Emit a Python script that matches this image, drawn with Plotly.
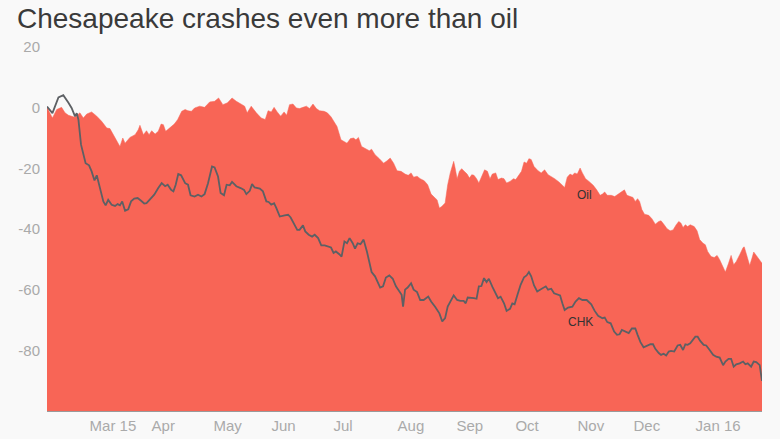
import plotly.graph_objects as go

# Trading-day index (0 = early Feb 2015) and % change since start
oil_day = [0, 1.9, 3.4, 5.1, 6.3, 7.5, 9.8, 11.5, 12.7, 13.9, 15.6, 17.4, 19.1, 20.9, 22.0, 23.2, 24.4, 25.5,
           26.5, 27.3, 29.0, 30.8, 31.9, 32.5, 33.7, 34.8, 35.7, 36.6, 37.8, 38.9, 39.9, 40.7, 41.5, 43.0, 44.5,
           45.7, 47.1, 48.3, 49.3, 50.5, 51.6, 53.4, 55.1, 56.9, 58.6, 60.0, 61.5, 63.1, 64.7, 66.2, 68.0, 69.1,
           70.0, 71.4, 73.2, 74.9, 76.3, 77.3, 78.4, 79.4, 80.5, 81.7, 82.9, 83.8, 84.8, 86.0, 87.2, 88.3, 89.5,
           90.7, 91.8, 93.0, 94.2, 95.3, 96.9, 98.0, 99.3, 100.5, 101.4, 102.8, 104.0, 104.9, 106.1, 107.2, 108.0,
           108.9, 110.0, 111.5, 112.7, 113.5, 114.7, 116.2, 117.7, 118.9, 120.0, 121.2, 122.4, 123.8, 125.2, 126.3,
           127.3, 128.2, 129.4, 130.5, 131.9, 133.1, 134.3, 135.7, 136.4, 137.2, 138.0, 139.2, 140.1, 141.0, 142.2,
           142.7, 143.4, 144.2, 145.0, 145.9, 146.9, 147.7, 148.5, 149.3, 150.2, 151.0, 152.2, 153.0, 154.0, 154.9,
           155.7, 156.9, 157.7, 158.9, 159.8, 160.7, 161.9, 163.1, 163.9, 165.0, 165.9, 166.8, 167.7, 168.5, 169.3,
           170.3, 171.7, 172.8, 174.0, 175.2, 176.3, 177.5, 179.0, 180.2, 181.0, 181.9, 182.9, 183.7, 184.5, 185.4,
           186.4, 187.2, 188.3, 189.5, 191.0, 192.2, 193.4, 194.2, 195.0, 195.9, 197.3, 198.5, 200.2, 201.0, 201.9,
           202.8, 204.0, 204.9, 205.7, 206.5, 207.2, 208.0, 208.9, 210.4, 211.5, 212.7, 213.9, 214.7, 215.8, 216.8,
           217.9, 218.9, 220.0, 220.9, 221.7, 222.4, 223.2, 224.0, 224.9, 226.3, 227.3, 228.2, 229.4, 230.2, 231.0,
           232.2, 233.3, 234.3, 235.2, 236.0, 237.2, 238.3, 239.2, 240.1, 241.0, 242.2, 243.4, 243.8, 244.5, 245.7,
           246.5, 247.1, 248.0, 249.2, 250.0]
oil_pct = [0.1, -3.4, -0.6, 0.1, -1.7, -2.5, -3.2, -1.7, -3.4, -2.1, -1.4, -2.8, -4.5, -6.7, -6.9, -8.9, -10.9, -12.8,
           -10.0, -11.7, -9.8, -8.9, -7.3, -5.8, -8.9, -7.6, -8.9, -7.6, -8.7, -7.8, -5.4, -5.6, -7.8, -6.7, -5.4,
           -3.9, -1.2, -0.6, -1.0, -1.2, -0.1, 0.5, 0.1, 1.9, 2.1, 3.2, 1.0, 1.6, 3.2, 2.1, 1.2, 0.5,
           -1.7, 0.5, -1.7, -3.4, -3.9, -1.0, -1.4, 0.1, -1.4, -2.8, -1.4, -2.5, 1.0, 1.2, -0.1, -0.3, 0.1,
           0.5, -0.3, 1.2, -0.3, -1.0, -1.2, -1.7, -3.0, -5.1, -6.2, -10.6, -11.1, -11.7, -10.2, -10.0, -10.6,
           -9.8, -12.8, -13.5, -14.2, -13.7, -15.5, -16.8, -18.3, -17.5, -16.6, -18.3, -20.8, -21.0, -21.9, -22.3,
           -21.5, -22.9, -22.6, -23.4, -24.1, -25.4, -28.5, -29.8, -30.4, -33.1, -32.6, -31.4, -25.4, -21.5, -17.7,
           -19.9, -23.4, -21.0, -20.1, -21.0, -21.9, -23.2, -22.1, -22.3, -23.4, -24.8, -21.9, -20.5, -21.0, -23.4,
           -21.9, -21.5, -23.7, -23.2, -23.4, -24.8, -24.3, -23.4, -23.7, -22.3, -21.0, -17.9, -18.3, -16.8, -17.1,
           -19.4, -20.8, -21.5, -20.5, -22.1, -22.6, -23.4, -24.5, -25.4, -26.3, -22.9, -21.9, -22.3, -21.5, -21.9,
           -19.9, -21.5, -23.4, -24.3, -25.6, -27.1, -28.9, -28.5, -27.8, -28.9, -28.9, -29.3, -28.2, -27.4, -27.1,
           -28.9, -29.3, -29.6, -30.9, -30.0, -30.9, -33.6, -35.1, -35.5, -36.6, -38.4, -37.5, -37.3, -38.6, -39.9,
           -40.6, -40.3, -38.6, -37.5, -38.1, -39.5, -38.6, -39.2, -38.6, -39.2, -40.6, -43.5, -44.7, -45.2, -47.4,
           -49.1, -49.4, -48.7, -50.1, -51.8, -54.2, -51.3, -48.7, -51.8, -50.7, -48.5, -46.1, -45.9, -47.9, -52.0,
           -49.6, -47.6, -48.7, -50.2, -51.3]

chk_day = [0, 1.9, 4.0, 5.7, 7.5, 8.6, 9.8, 10.4, 11.0, 11.9, 13.5, 14.7, 15.6, 16.6, 17.4, 18.5, 19.7, 20.5, 21.4,
           22.6, 23.8, 24.7, 25.5, 26.3, 27.3, 28.4, 29.4, 30.5, 31.7, 32.9, 34.0, 34.8, 36.0, 37.5, 38.9, 40.1,
           41.3, 42.2, 43.4, 44.2, 45.0, 45.9, 46.9, 48.3, 49.3, 50.2, 51.6, 52.8, 54.0, 55.1, 56.3, 57.7, 58.6,
           59.8, 60.7, 61.9, 62.8, 63.9, 64.7, 66.2, 67.7, 68.9, 69.7, 70.9, 71.7, 72.6, 74.4, 75.5, 76.7, 77.5,
           78.4, 79.4, 80.2, 81.4, 83.1, 84.3, 85.2, 86.4, 87.5, 88.3, 89.5, 90.3, 91.5, 92.7, 93.6, 94.8, 95.9,
           97.1, 98.3, 99.3, 100.2, 101.0, 102.2, 103.0, 104.0, 104.9, 105.8, 106.9, 107.7, 108.6, 109.6, 110.7,
           111.9, 112.7, 113.5, 114.7, 115.6, 116.5, 117.5, 118.5, 119.7, 120.9, 122.0, 123.2, 124.0, 124.5, 125.2,
           126.1, 127.3, 128.2, 129.4, 130.5, 131.7, 133.3, 134.3, 135.7, 137.2, 138.2, 139.2, 140.1, 141.0, 142.2,
           143.4, 144.5, 145.7, 146.4, 147.1, 148.3, 149.3, 150.2, 151.0, 151.9, 152.8, 153.7, 154.5, 155.7, 156.9,
           157.7, 158.6, 159.8, 160.7, 161.9, 162.7, 163.5, 164.5, 165.6, 166.8, 167.7, 168.5, 169.3, 170.3, 171.4,
           172.4, 173.5, 174.4, 175.2, 176.3, 177.3, 178.4, 179.4, 180.2, 181.0, 182.2, 183.7, 184.8, 186.0, 187.2,
           188.7, 190.3, 191.5, 192.7, 194.2, 195.0, 195.9, 197.1, 198.3, 199.3, 200.2, 201.0, 202.2, 203.4, 204.5,
           205.7, 206.5, 207.5, 208.6, 209.8, 211.0, 211.9, 212.7, 213.9, 214.7, 215.6, 216.5, 217.4, 218.2, 219.3,
           220.5, 221.4, 222.4, 223.2, 224.0, 224.9, 225.9, 226.7, 227.5, 228.4, 229.6, 230.5, 231.7, 232.9, 234.0,
           235.2, 236.4, 237.2, 238.3, 239.2, 240.1, 241.0, 242.2, 243.4, 244.2, 245.0, 246.2, 247.1, 248.0, 249.2,
           249.7, 250.0]
chk_pct = [0.4, -1.8, 3.4, 4.1, 1.6, -0.1, -2.9, -1.8, -4.0, -12.2, -18.3, -19.0, -21.0, -24.0, -22.3, -26.5, -30.9,
           -32.2, -30.4, -32.0, -32.4, -31.8, -32.2, -30.9, -34.0, -33.5, -30.9, -30.0, -29.8, -30.7, -31.6, -31.5,
           -30.4, -28.7, -26.5, -24.9, -25.9, -25.4, -27.1, -27.6, -25.4, -21.9, -22.3, -24.9, -25.4, -28.9, -29.3,
           -28.7, -29.3, -28.5, -24.9, -19.4, -19.7, -22.7, -28.1, -28.9, -25.4, -25.6, -24.5, -25.9, -26.5, -27.1,
           -28.5, -27.4, -25.2, -26.3, -26.7, -27.6, -30.9, -31.1, -32.0, -31.5, -33.1, -35.9, -35.5, -35.3, -36.2,
           -38.6, -40.3, -40.3, -38.8, -40.8, -41.9, -42.5, -41.9, -43.0, -45.4, -45.4, -45.8, -46.1, -47.9, -47.4,
           -48.3, -49.1, -44.1, -44.7, -43.0, -44.7, -46.5, -44.7, -45.0, -43.5, -47.6, -50.7, -54.2, -55.6, -57.3,
           -59.3, -58.9, -56.0, -55.3, -56.4, -58.9, -60.6, -61.7, -65.6, -60.0, -59.3, -57.9, -60.0, -60.8, -63.4,
           -63.4, -62.3, -63.9, -65.6, -67.8, -70.5, -69.4, -65.6, -63.9, -61.9, -63.4, -63.7, -63.7, -64.5, -62.6,
           -62.6, -62.8, -63.0, -58.9, -58.8, -56.2, -57.5, -56.4, -59.0, -61.5, -62.8, -62.3, -64.5, -67.0, -66.3,
           -64.5, -64.8, -61.7, -58.4, -55.9, -55.3, -54.2, -55.6, -58.6, -60.6, -60.0, -59.3, -58.9, -60.0, -59.7,
           -61.2, -61.7, -61.9, -64.5, -66.7, -65.9, -65.6, -63.9, -62.8, -63.4, -63.4, -64.8, -67.0, -68.6, -69.4,
           -69.2, -70.7, -71.1, -73.8, -74.9, -74.7, -73.3, -73.8, -74.3, -72.8, -72.8, -74.9, -77.3, -79.0, -78.4,
           -78.0, -78.0, -79.5, -80.9, -81.5, -81.1, -81.7, -80.4, -80.2, -80.4, -78.4, -78.2, -79.9, -78.0, -78.2,
           -77.7, -76.6, -75.5, -75.5, -76.9, -78.2, -78.4, -79.9, -81.5, -82.1, -82.4, -84.9, -83.7, -82.8, -82.8,
           -85.4, -84.6, -84.3, -83.7, -84.6, -84.3, -85.4, -83.7, -83.9, -84.9, -88.2, -90.1]

tick_day = [14.7, 36.4, 58.0, 78.3, 100.0, 122.4, 143.0, 163.6, 185.3, 204.9, 226.6]
tick_text = ["Mar 15", "Apr", "May", "Jun", "Jul", "Aug", "Sep", "Oct", "Nov", "Dec", "Jan 16"]
y_ticks = [20, 0, -20, -40, -60, -80]
y_tick_text = ["20", "0", "-20", "-40", "-60", "-80"]
Y_MIN, Y_MAX = -100, 20

FONT = "Liberation Sans, Arial, Helvetica, sans-serif"
FILL = "#f86556"
BG = "#f9f9f9"

fig = go.Figure()
fig.add_trace(go.Scatter(x=oil_day, y=[Y_MIN] * len(oil_day), mode="lines",
                         line=dict(width=0, color=FILL), hoverinfo="skip", showlegend=False))
fig.add_trace(go.Scatter(x=oil_day, y=oil_pct, mode="lines", fill="tonexty", fillcolor=FILL,
                         line=dict(width=0.5, color=FILL), name="Oil", showlegend=False))
fig.add_trace(go.Scatter(x=chk_day, y=chk_pct, mode="lines",
                         line=dict(width=1.8, color="#5d6064"), name="CHK", showlegend=False))

fig.add_annotation(x=187.8, y=-28.7, text="Oil", showarrow=False,
                   font=dict(family=FONT, size=12, color="#333333"))
fig.add_annotation(x=186.4, y=-70.6, text="CHK", showarrow=False,
                   font=dict(family=FONT, size=12, color="#333333"))

fig.update_layout(
    width=780, height=439,
    margin=dict(l=47, r=18, t=47, b=28),
    paper_bgcolor=BG, plot_bgcolor=BG,
    title=dict(text="Chesapeake crashes even more than oil", x=17 / 780, xanchor="left",
               xref="container", yref="container", y=1 - 18 / 439, yanchor="middle",
               font=dict(family=FONT, size=28, color="#3a3a3a")),
    font=dict(family=FONT),
    xaxis=dict(range=[0, 250], showgrid=False, zeroline=False, showline=True, linecolor="#9a9a9a",
               linewidth=1, tickmode="array", tickvals=tick_day, ticktext=tick_text,
               ticklabelposition="outside right", ticks="", ticklabelstandoff=1, automargin=False,
               tickfont=dict(family=FONT, size=15, color="#aaaaaa")),
    yaxis=dict(range=[Y_MIN, Y_MAX], showgrid=False, zeroline=False, showline=False,
               tickmode="array", tickvals=y_ticks, ticktext=y_tick_text, ticks="",
               ticklabelstandoff=6, automargin=False,
               tickfont=dict(family=FONT, size=15, color="#aaaaaa")),
)

fig.write_html("out.html", config={"displayModeBar": False},
               post_script="document.body.style.margin='0';")
